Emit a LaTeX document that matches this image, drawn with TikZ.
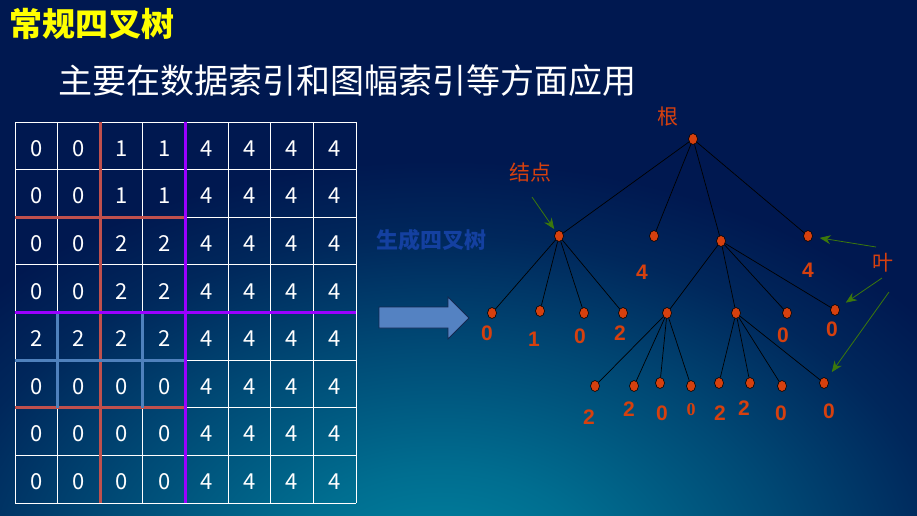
\documentclass[tikz,border=0pt]{standalone}
\usepackage{fontspec}
\setmainfont{Liberation Sans}
\newfontfamily\cjk{Noto Sans CJK SC}
\newfontfamily\serifdigit{Liberation Serif}
\usetikzlibrary{arrows.meta,shapes.geometric}
\definecolor{navyc}{RGB}{0,24,80}
\definecolor{glowc}{RGB}{0,134,162}
\definecolor{redline}{RGB}{192,80,77}
\definecolor{purpline}{RGB}{155,0,255}
\definecolor{blueline}{RGB}{79,129,189}
\definecolor{treered}{RGB}{214,64,14}
\definecolor{leafgreen}{RGB}{60,120,12}
\definecolor{gentext}{RGB}{20,64,160}
\definecolor{titleyellow}{RGB}{255,255,0}
\definecolor{arrowfill}{RGB}{84,130,194}
\definecolor{arrowdraw}{RGB}{20,40,80}
\pgfdeclareradialshading{bgglow}{\pgfpoint{0bp}{0bp}}{color(0bp)=(glowc); color(6.5bp)=(glowc!78!navyc); color(14bp)=(glowc!45!navyc); color(20.5bp)=(glowc!14!navyc); color(25bp)=(navyc); color(50bp)=(navyc)}
\begin{document}
\begin{tikzpicture}[x=1pt,y=-1pt,
  tnode/.style={draw=black, line width=0.6pt, fill=treered, ellipse, minimum width=9pt, minimum height=11pt, inner sep=0pt},
  tlabel/.style={text=treered, font=\fontsize{21pt}{22pt}\selectfont\bfseries, inner sep=0pt},
  cjklabel/.style={text=treered, font=\cjk\fontsize{21pt}{22pt}\selectfont, inner sep=0pt},
  edge/.style={black, line width=0.7pt},
  cell/.style={text=white, font=\cjk\fontsize{22pt}{24pt}\selectfont, inner sep=0pt},
  gridline/.style={white, line width=0.9pt},
  leafarrow/.style={leafgreen, line width=0.8pt, -{Stealth[length=11pt,width=9pt]}},
  redl/.style={redline, line width=3pt},
  purpl/.style={purpline, line width=3pt},
  bluel/.style={blueline, line width=3pt}
]
\useasboundingbox (0,0) rectangle (917,515);
% background
\fill[navyc] (0,0) rectangle (917,515);
\begin{scope}
  \clip (0,0) rectangle (917,515);
  \shade[shading=bgglow] (440,580) ellipse [x radius=620, y radius=420];
\end{scope}

% titles
\node[anchor=west, inner sep=0pt, text=titleyellow, font=\cjk\bfseries\fontsize{33pt}{35pt}\selectfont] (title) at (9,24) {常规四叉树};
\node[anchor=west, inner sep=0pt, text=white, font=\cjk\fontsize{34pt}{36pt}\selectfont] (subtitle) at (58,81) {主要在数据索引和图幅索引等方面应用};

% grid
\foreach \i in {0,...,8} {
  \draw[gridline] ({15+\i*42.625},122) -- ({15+\i*42.625},503);
  \draw[gridline] (15,{122+\i*47.625}) -- (356,{122+\i*47.625});
}
% coloured partition lines
\draw[redl] (100.25,122) -- (100.25,503);
\draw[redl] (15,217.25) -- (185.5,217.25);
\draw[redl] (15,407.75) -- (185.5,407.75);
\draw[bluel] (57.625,312.5) -- (57.625,407.75);
\draw[bluel] (142.875,312.5) -- (142.875,407.75);
\draw[bluel] (15,360.125) -- (185.5,360.125);
\draw[purpl] (185.5,122) -- (185.5,503);
\draw[purpl] (15,312.5) -- (356,312.5);

% grid values
\foreach \row [count=\r] in {{0,0,1,1,4,4,4,4},{0,0,1,1,4,4,4,4},{0,0,2,2,4,4,4,4},{0,0,2,2,4,4,4,4},{2,2,2,2,4,4,4,4},{0,0,0,0,4,4,4,4},{0,0,0,0,4,4,4,4},{0,0,0,0,4,4,4,4}} {
  \foreach \v [count=\c] in \row {
    \node[cell] (g-\r-\c) at ({15+(\c-0.5)*42.625},{122+(\r-0.5)*47.625+2.5}) {\v};
  }
}

% block arrow and its caption
\node[inner sep=0pt, text=gentext, font=\cjk\bfseries\fontsize{22pt}{24pt}\selectfont] (gen) at (431,240) {生成四叉树};
\fill[arrowfill, draw=arrowdraw, line width=0.8pt] (379,307) -- (448,307) -- (448,297) -- (469,318) -- (448,339) -- (448,328) -- (379,328) -- cycle;

% tree nodes
\node[tnode] (R) at (693,139) {};
\node[tnode] (A) at (559,236) {};
\node[tnode] (B) at (654,236) {};
\node[tnode] (C) at (721,241) {};
\node[tnode] (D) at (808,236) {};
\node[tnode] (A1) at (492,313) {};
\node[tnode] (A2) at (540,311) {};
\node[tnode] (A3) at (584,313) {};
\node[tnode] (A4) at (623,313) {};
\node[tnode] (C1) at (667,313) {};
\node[tnode] (C2) at (736,313) {};
\node[tnode] (C3) at (787,313) {};
\node[tnode] (C4) at (835,310) {};
\node[tnode] (C1a) at (595,386) {};
\node[tnode] (C1b) at (634,386) {};
\node[tnode] (C1c) at (660,383) {};
\node[tnode] (C1d) at (691,386) {};
\node[tnode] (C2a) at (719,383) {};
\node[tnode] (C2b) at (750,383) {};
\node[tnode] (C2c) at (782,386) {};
\node[tnode] (C2d) at (824,383) {};

% tree edges
\foreach \p/\q in {R/A,R/B,R/C,R/D,A/A1,A/A2,A/A3,A/A4,C/C1,C/C2,C/C3,C/C4,C1/C1a,C1/C1b,C1/C1c,C1/C1d,C2/C2a,C2/C2b,C2/C2c,C2/C2d}
  \draw[edge] (\p) -- (\q);

% value labels
\node[tlabel] (lB) at (642,272) {4};
\node[tlabel] (lD) at (808,270) {4};
\node[tlabel] (lA1) at (487,333) {0};
\node[tlabel] (lA2) at (534,339) {1};
\node[tlabel] (lA3) at (580,336) {0};
\node[tlabel] (lA4) at (620,333) {2};
\node[tlabel] (lC3) at (783,335) {0};
\node[tlabel] (lC4) at (832,329) {0};
\node[tlabel] (lC1a) at (589,417) {2};
\node[tlabel] (lC1b) at (629,409) {2};
\node[tlabel] (lC1c) at (662,413) {0};
\node[text=treered, inner sep=0pt, font=\serifdigit\bfseries\fontsize{18pt}{20pt}\selectfont] (lC1d) at (691,410) {0};
\node[tlabel] (lC2a) at (720,413) {2};
\node[tlabel] (lC2b) at (744,408) {2};
\node[tlabel] (lC2c) at (781,413) {0};
\node[tlabel] (lC2d) at (829,411) {0};

% word labels
\node[cjklabel] (root) at (668,117) {根};
\node[cjklabel] (jd) at (530,172) {结点};
\node[cjklabel] (ye) at (883,263) {叶};

% green pointers
\coordinate (k1) at (532,197);
\coordinate (k2) at (876,247);
\coordinate (k3) at (882,278);
\coordinate (k4) at (889,292);
\draw[leafarrow, shorten >=3pt] (k1) -- (A);
\draw[leafarrow, shorten >=7pt] (k2) -- (D);
\draw[leafarrow, shorten >=8pt] (k3) -- (C4);
\draw[leafarrow, shorten >=8pt] (k4) -- (C2d);
\end{tikzpicture}
\end{document}
